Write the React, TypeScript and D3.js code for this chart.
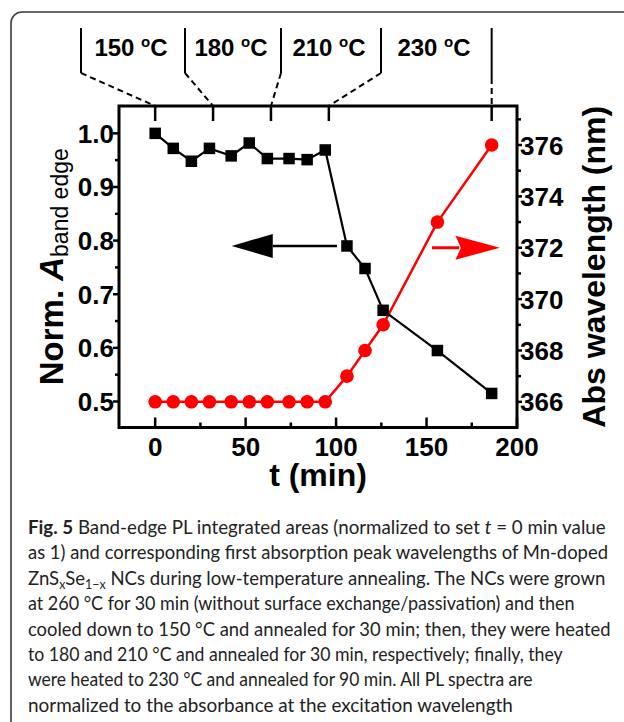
import React, { useLayoutEffect, useRef, useState } from 'react';
import * as d3 from 'd3';

const W = 624;
const H = 722;

// ---- data ----
const timeMin = [0, 10, 20, 30, 42, 52, 62, 74, 84, 94, 106, 116, 126, 156, 186];
const normArea = [1.0, 0.972, 0.948, 0.972, 0.958, 0.982, 0.953, 0.953, 0.951, 0.969, 0.79, 0.748, 0.67, 0.595, 0.515];
const absWavelength = [366, 366, 366, 366, 366, 366, 366, 366, 366, 366, 367, 368, 369, 373, 376];

const xTicks = [0, 50, 100, 150, 200];
const xMinorTicks = [25, 75, 125, 175];
const yLeftTicks = [0.5, 0.6, 0.7, 0.8, 0.9, 1.0];
const yLeftMinorTicks = [0.55, 0.65, 0.75, 0.85, 0.95];
const yRightTicks = [366, 368, 370, 372, 374, 376];
const yRightMinorTicks = [367, 369, 371, 373, 375, 377];

const stageTimes = [0, 32, 64, 96, 186];
const stageLabels = ['150', '180', '210', '230'];

const captionLines = [
  '__FIG__',
  'as 1) and corresponding first absorption peak wavelengths of Mn-doped',
  '__ZNS__',
  'at 260 °C for 30 min (without surface exchange/passivation) and then',
  'cooled down to 150 °C and annealed for 30 min; then, they were heated',
  'to 180 and 210 °C and annealed for 30 min, respectively; finally, they',
  'were heated to 230 °C and annealed for 90 min. All PL spectra are',
  'normalized to the absorbance at the excitation wavelength',
];
const captionWidths = [578, 580, 578, 547, 583, 535, 505, 485];

// ---- layout ----
const plot = { left: 119, right: 517, top: 106, bottom: 427.5 };

const x = d3.scaleLinear().domain([-20, 200]).range([plot.left, plot.right]);
const yL = d3.scaleLinear().domain([0.4515, 1.051]).range([plot.bottom, plot.top]);
const yR = d3.scaleLinear().domain([365, 377.52]).range([plot.bottom, plot.top]);

const FONT = "'Liberation Sans', Arial, Helvetica, sans-serif";
const CAP_FONT = "Lato, 'Open Sans', sans-serif";

function CaptionLine({ line, x0, y0, width, fs }: { line: string; x0: number; y0: number; width: number; fs: number }) {
  const ref = useRef<SVGTextElement>(null);
  const [sx, setSx] = useState(1);
  useLayoutEffect(() => {
    if (ref.current) {
      const natural = ref.current.getComputedTextLength();
      if (natural > 0) setSx(width / natural);
    }
  }, [line, width, fs]);
  let content: React.ReactNode = line;
  if (line === '__FIG__') {
    content = (
      <>
        <tspan fontWeight={700}>Fig. 5</tspan> Band-edge PL integrated areas (normalized to set{' '}
        <tspan fontStyle="italic">t</tspan> = 0 min value
      </>
    );
  } else if (line === '__ZNS__') {
    content = (
      <>
        ZnS<tspan fontSize={13} dy={4}>x</tspan>
        <tspan dy={-4}>Se</tspan>
        <tspan fontSize={13} dy={4}>1−x</tspan>
        <tspan dy={-4}> NCs during low-temperature annealing. The NCs were grown</tspan>
      </>
    );
  }
  return (
    <text
      ref={ref}
      transform={`translate(${x0},${y0}) scale(${sx},1)`}
      fontFamily={CAP_FONT}
      fontSize={fs}
      fill="#222"
    >
      {content}
    </text>
  );
}

export default function App() {
  const blackLine = d3
    .line<number>()
    .x((_, i) => x(timeMin[i]))
    .y((d) => yL(d));
  const redLine = d3
    .line<number>()
    .x((_, i) => x(timeMin[i]))
    .y((d) => yR(d));

  const sq = 11.5;
  const bracketX = [81, 185, 281, 381];
  const labelCX = [131, 231, 329, 434];

  const capX = 28;
  const capY0 = 534;
  const capDy = 25.4;
  const capFs = 19.5;

  const tickTxt = { fontFamily: FONT, fontWeight: 700, fontSize: 26, fill: '#000' } as const;

  return (
    <svg width={W} height={H} style={{ position: 'absolute', left: 0, top: 0, background: '#fff' }}>
      <rect x={11} y={12} width={660} height={760} rx={11} ry={11} fill="#fff" stroke="#3a3a3a" strokeWidth={1.6} />

      {/* stage annotation brackets */}
      {stageTimes.map((t, i) => {
        const tx = x(t);
        if (i < bracketX.length) {
          const bx = bracketX[i];
          return (
            <g key={'br' + i}>
              <line x1={bx} y1={28} x2={bx} y2={73} stroke="#000" strokeWidth={2} />
              <line x1={bx} y1={73} x2={tx} y2={plot.top} stroke="#000" strokeWidth={2} strokeDasharray="6,4" />
            </g>
          );
        }
        return (
          <g key={'br' + i}>
            <line x1={tx} y1={28} x2={tx} y2={78} stroke="#000" strokeWidth={2} />
            <line x1={tx} y1={78} x2={tx} y2={plot.top} stroke="#000" strokeWidth={2} strokeDasharray="6,4" />
          </g>
        );
      })}
      {stageLabels.map((s, i) => (
        <text key={'sl' + i} x={labelCX[i]} y={56} textAnchor="middle" fontFamily={FONT} fontWeight={700} fontSize={24}>
          {s + ' '}
          <tspan fontSize={15} dy={-9}>o</tspan>
          <tspan dy={9}>C</tspan>
        </text>
      ))}

      {/* top ticks (stage boundaries) */}
      {stageTimes.map((t, i) => (
        <line key={'tt' + i} x1={x(t)} x2={x(t)} y1={plot.top} y2={plot.top + 15} stroke="#000" strokeWidth={2.5} />
      ))}

      {/* bottom ticks */}
      {xTicks.map((t) => (
        <g key={'xt' + t}>
          <line x1={x(t)} x2={x(t)} y1={plot.bottom} y2={plot.bottom - 10} stroke="#000" strokeWidth={2.5} />
          <text x={x(t)} y={plot.bottom + 28} textAnchor="middle" {...tickTxt}>{t}</text>
        </g>
      ))}
      {xMinorTicks.map((t) => (
        <line key={'xm' + t} x1={x(t)} x2={x(t)} y1={plot.bottom} y2={plot.bottom - 5} stroke="#000" strokeWidth={2.5} />
      ))}

      {/* left ticks */}
      {yLeftTicks.map((v) => (
        <g key={'yl' + v}>
          <line x1={plot.left} x2={plot.left - 6} y1={yL(v)} y2={yL(v)} stroke="#000" strokeWidth={2.5} />
          <text x={plot.left - 5} y={yL(v) + 9.5} textAnchor="end" {...tickTxt}>{v.toFixed(1)}</text>
        </g>
      ))}
      {yLeftMinorTicks.map((v) => (
        <line key={'ylm' + v} x1={plot.left} x2={plot.left - 4} y1={yL(v)} y2={yL(v)} stroke="#000" strokeWidth={2.5} />
      ))}

      {/* right ticks */}
      {yRightTicks.map((v) => (
        <g key={'yr' + v}>
          <line x1={plot.right} x2={plot.right + 5} y1={yR(v)} y2={yR(v)} stroke="#000" strokeWidth={2.5} />
          <text x={plot.right + 3} y={yR(v) + 9.5} textAnchor="start" {...tickTxt}>{v}</text>
        </g>
      ))}
      {yRightMinorTicks.map((v) => (
        <line key={'yrm' + v} x1={plot.right} x2={plot.right + 4} y1={yR(v)} y2={yR(v)} stroke="#000" strokeWidth={2.5} />
      ))}

      {/* frame */}
      <rect x={plot.left} y={plot.top} width={plot.right - plot.left} height={plot.bottom - plot.top} fill="none" stroke="#000" strokeWidth={3} />

      {/* arrows */}
      <line x1={x(100.5)} x2={x(65)} y1={yL(0.79)} y2={yL(0.79)} stroke="#000" strokeWidth={2.5} />
      <path
        d={`M${x(42.3)},${yL(0.79)} L${x(65)},${yL(0.79) - 12} L${x(65)},${yL(0.79) + 12} Z`}
        fill="#000"
      />
      <line x1={x(153)} x2={x(168)} y1={yR(372)} y2={yR(372)} stroke="#ff0000" strokeWidth={3} />
      <path
        d={`M${x(190.5)},${yR(372)} L${x(166)},${yR(372) - 12} L${x(169)},${yR(372)} L${x(166)},${yR(372) + 12} Z`}
        fill="#ff0000"
      />

      {/* series lines */}
      <path d={redLine(absWavelength) ?? ''} fill="none" stroke="#ff0000" strokeWidth={2.5} />
      <path d={blackLine(normArea) ?? ''} fill="none" stroke="#000" strokeWidth={2.2} />
      {normArea.map((v, i) => (
        <rect key={'s' + i} x={x(timeMin[i]) - sq / 2} y={yL(v) - sq / 2} width={sq} height={sq} fill="#000" />
      ))}
      {absWavelength.map((v, i) => (
        <circle key={'c' + i} cx={x(timeMin[i])} cy={yR(v)} r={6.8} fill="#ff0000" />
      ))}

      {/* axis titles */}
      <text x={318} y={486} textAnchor="middle" fontFamily={FONT} fontWeight={700} fontSize={32}>t (min)</text>
      <text transform={`translate(63,${(plot.top + plot.bottom) / 2}) rotate(-90)`} textAnchor="middle" fontFamily={FONT} fontWeight={700} fontSize={33}>
        Norm. <tspan fontStyle="italic">A</tspan>
        <tspan fontSize={23} fontWeight={400} dy={5}>band edge</tspan>
      </text>
      <text transform={`translate(605,${(plot.top + plot.bottom) / 2}) rotate(-90)`} textAnchor="middle" fontFamily={FONT} fontWeight={700} fontSize={32}>
        Abs wavelength (nm)
      </text>

      {/* caption */}
      {captionLines.map((ln, i) => (
        <CaptionLine key={'cap' + i} line={ln} x0={capX} y0={capY0 + i * capDy} width={captionWidths[i]} fs={capFs} />
      ))}
    </svg>
  );
}
